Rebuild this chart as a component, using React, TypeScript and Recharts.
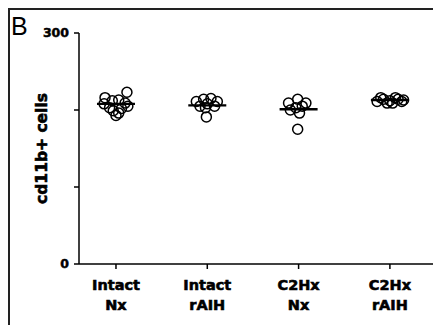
import React from 'react';
import { ScatterChart, Scatter, XAxis, YAxis } from 'recharts';

const groupTop = ['Intact', 'Intact', 'C2Hx', 'C2Hx'];
const groupBottom = ['Nx', 'rAIH', 'Nx', 'rAIH'];
const yTicks = [0, 100, 200, 300];

const intactNxValues = [216, 212, 213, 223, 209, 208, 205, 203, 202, 199, 196, 193];
const intactNxJitter = [-0.12, -0.04, 0.03, 0.12, 0.1, -0.13, 0.13, -0.07, 0.06, -0.03, 0.03, 0.0];

const intactRaihValues = [211, 214, 215, 211, 205, 205, 208, 203, 191];
const intactRaihJitter = [-0.12, -0.04, 0.04, 0.11, -0.08, 0.08, 0.0, -0.02, -0.01];

const c2hxNxValues = [214, 209, 209, 203, 205, 196, 200, 175];
const c2hxNxJitter = [-0.01, -0.11, 0.08, -0.03, 0.04, 0.01, -0.09, -0.01];

const c2hxRaihValues = [216, 216, 211, 211, 209, 209, 214, 214, 212, 213];
const c2hxRaihJitter = [-0.1, 0.06, -0.14, 0.13, -0.03, 0.03, -0.07, 0.09, 0.0, 0.15];

const means = [208, 206, 201, 213];

const groups = [
  { values: intactNxValues, jitter: intactNxJitter },
  { values: intactRaihValues, jitter: intactRaihJitter },
  { values: c2hxNxValues, jitter: c2hxNxJitter },
  { values: c2hxRaihValues, jitter: c2hxRaihJitter },
];

const pointData = groups.map((g, gi) =>
  g.values.map((v, i) => ({ x: gi + g.jitter[i], y: v }))
);
const meanData = means.map((m, i) => ({ x: i, y: m }));

const FONT = '"DejaVu Sans", sans-serif';

const CircleShape = (props: any) => (
  <circle cx={props.cx} cy={props.cy} r={5} fill="none" stroke="#000" strokeWidth={1.5} />
);

const MeanShape = (props: any) => (
  <line x1={props.cx - 19} x2={props.cx + 19} y1={props.cy} y2={props.cy} stroke="#000" strokeWidth={2.4} />
);

const XTick = (props: any) => {
  const { x, y, payload } = props;
  const i = Math.round(payload.value);
  return (
    <g transform={`translate(${x},${y})`}>
      <text textAnchor="middle" fontFamily={FONT} fontWeight="bold" fontSize={14.5} fill="#000" stroke="#000" strokeWidth={0.6}>
        <tspan x={0} y={19}>{groupTop[i]}</tspan>
        <tspan x={0} y={39}>{groupBottom[i]}</tspan>
      </text>
    </g>
  );
};

const YLabel = (props: any) => {
  const vb = props.viewBox || { x: 0, y: 33, width: 79, height: 231 };
  const cx = vb.x + 47;
  const cy = vb.y + vb.height / 2;
  return (
    <text
      x={cx}
      y={cy}
      transform={`rotate(-90, ${cx}, ${cy})`}
      textAnchor="middle"
      fontFamily={FONT}
      fontWeight="bold"
      fontSize={15.5}
      fill="#000"
      stroke="#000"
      strokeWidth={0.6}
    >
      cd11b+ cells
    </text>
  );
};

export default function App() {
  return (
    <div style={{ position: 'absolute', left: 0, top: 0, width: 433, height: 325, background: '#fff', overflow: 'hidden' }}>
      <div style={{ position: 'absolute', left: 8, top: 8, width: 425, height: 317, borderTop: '2px solid #222', borderLeft: '2px solid #222' }} />
      <ScatterChart width={433} height={325} margin={{ top: 33, right: 0, bottom: 0, left: 0 }}>
        <XAxis
          type="number"
          dataKey="x"
          domain={[-0.405, 3.472]}
          ticks={[0, 1, 2, 3]}
          allowDataOverflow
          height={61}
          tick={<XTick />}
          tickSize={5}
          tickMargin={2}
          axisLine={{ stroke: '#000', strokeWidth: 1.5 }}
          tickLine={{ stroke: '#000', strokeWidth: 1.5 }}
        />
        <YAxis
          type="number"
          dataKey="y"
          domain={[0, 300]}
          ticks={yTicks}
          width={79}
          tickSize={5}
          tickMargin={5}
          tickFormatter={(v: number) => (v === 0 || v === 300 ? String(v) : '')}
          tick={{ fill: '#000', stroke: '#000', strokeWidth: 0.5, fontFamily: FONT, fontWeight: 'bold', fontSize: 12.5 }}
          axisLine={{ stroke: '#000', strokeWidth: 1.5 }}
          tickLine={{ stroke: '#000', strokeWidth: 1.5 }}
          label={{ content: <YLabel /> }}
        />
        {pointData.map((d, i) => (
          <Scatter key={'g' + i} data={d} shape={<CircleShape />} isAnimationActive={false} />
        ))}
        <Scatter data={meanData} shape={<MeanShape />} isAnimationActive={false} />
      </ScatterChart>
      <svg width={433} height={325} style={{ position: 'absolute', left: 0, top: 0, pointerEvents: 'none' }}>
        <text x={11} y={35} fontFamily='"Liberation Sans", Arial, sans-serif' fontSize={25} fill="#000">B</text>
      </svg>
    </div>
  );
}
